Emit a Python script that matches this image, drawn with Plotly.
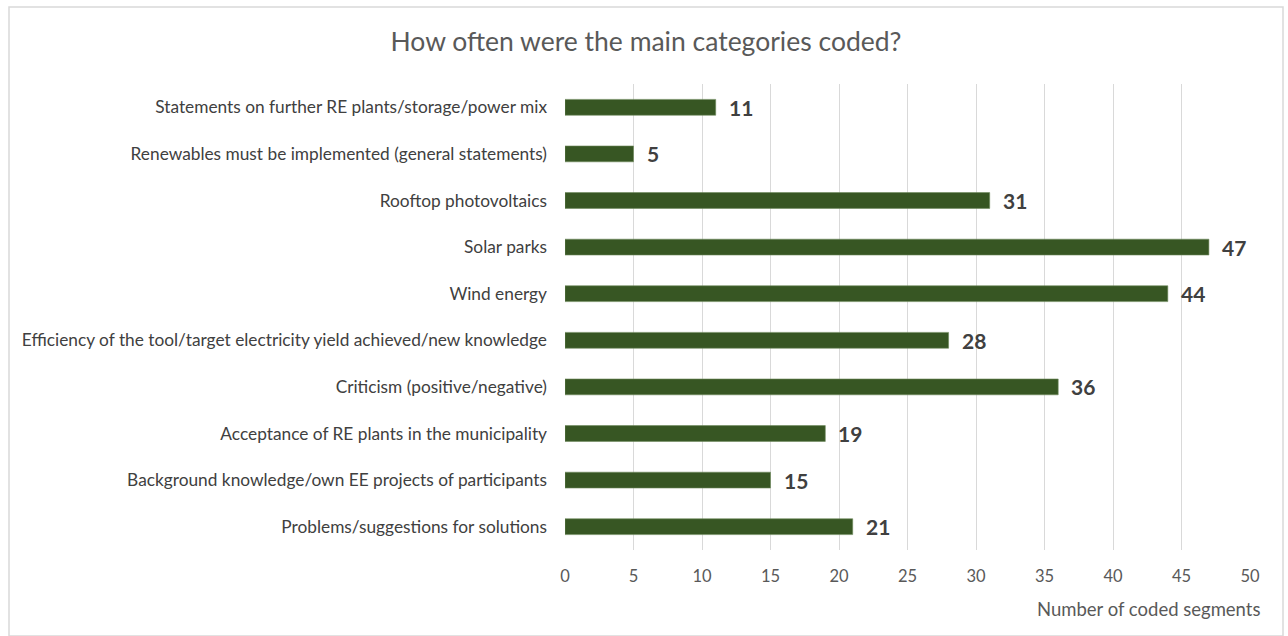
import plotly.graph_objects as go

categories = [
    "Statements on further RE plants/storage/power mix",
    "Renewables must be implemented (general statements)",
    "Rooftop photovoltaics",
    "Solar parks",
    "Wind energy",
    "Efficiency of the tool/target electricity yield achieved/new knowledge",
    "Criticism (positive/negative)",
    "Acceptance of RE plants in the municipality",
    "Background knowledge/own EE projects of participants",
    "Problems/suggestions for solutions",
]
counts = [11, 5, 31, 47, 44, 28, 36, 19, 15, 21]
x_ticks = [0, 5, 10, 15, 20, 25, 30, 35, 40, 45, 50]

FONT = "Lato"
BAR_COLOR = "#375623"

fig = go.Figure()
fig.add_trace(go.Bar(
    x=counts,
    y=categories,
    orientation="h",
    width=0.34,
    marker=dict(color=BAR_COLOR, line=dict(color="#6f8a5c", width=0.6)),
    hoverinfo="x+y",
))

# value labels just past the end of each bar
for cat, val in zip(categories, counts):
    fig.add_annotation(
        x=val, y=cat, text=f"<b>{val}</b>", showarrow=False,
        xanchor="left", yanchor="middle", xshift=11,
        font=dict(family=FONT, size=21, color="#404040"),
    )

fig.add_annotation(
    text="Number of coded segments", xref="paper", yref="paper",
    x=(1262 - 565) / 685, y=-(609 - 550) / 466, xanchor="right", yanchor="middle",
    showarrow=False,
    font=dict(family=FONT, size=18.5, color="#595959"),
)

fig.update_layout(
    width=1288, height=636,
    margin=dict(l=565, r=38, t=84, b=86),
    paper_bgcolor="white", plot_bgcolor="white",
    showlegend=False,
    title=dict(
        text="How often were the main categories coded?",
        x=646 / 1288, xanchor="center", y=1 - 42 / 636, yanchor="middle",
        font=dict(family=FONT, size=26.5, color="#595959"),
    ),
    xaxis=dict(
        range=[0, 50], tickvals=x_ticks, showgrid=True, gridcolor="#d9d9d9",
        gridwidth=1, zeroline=False, showline=False, ticks="",
        ticklabelstandoff=14,
        tickfont=dict(family=FONT, size=16.5, color="#595959"),
    ),
    yaxis=dict(
        autorange="reversed", showgrid=False, zeroline=False, showline=False,
        ticks="", ticklabelstandoff=17,
        tickfont=dict(family=FONT, size=17.3, color="#404040"),
    ),
    shapes=[dict(
        type="rect", xref="paper", yref="paper",
        x0=-556 / 685, x1=(1283 - 565) / 685, y0=-86 / 466, y1=(550 - 7) / 466,
        line=dict(color="#d9d9d9", width=1.5), fillcolor="rgba(0,0,0,0)", layer="below",
    )],
)

fig.write_html("out.html")
